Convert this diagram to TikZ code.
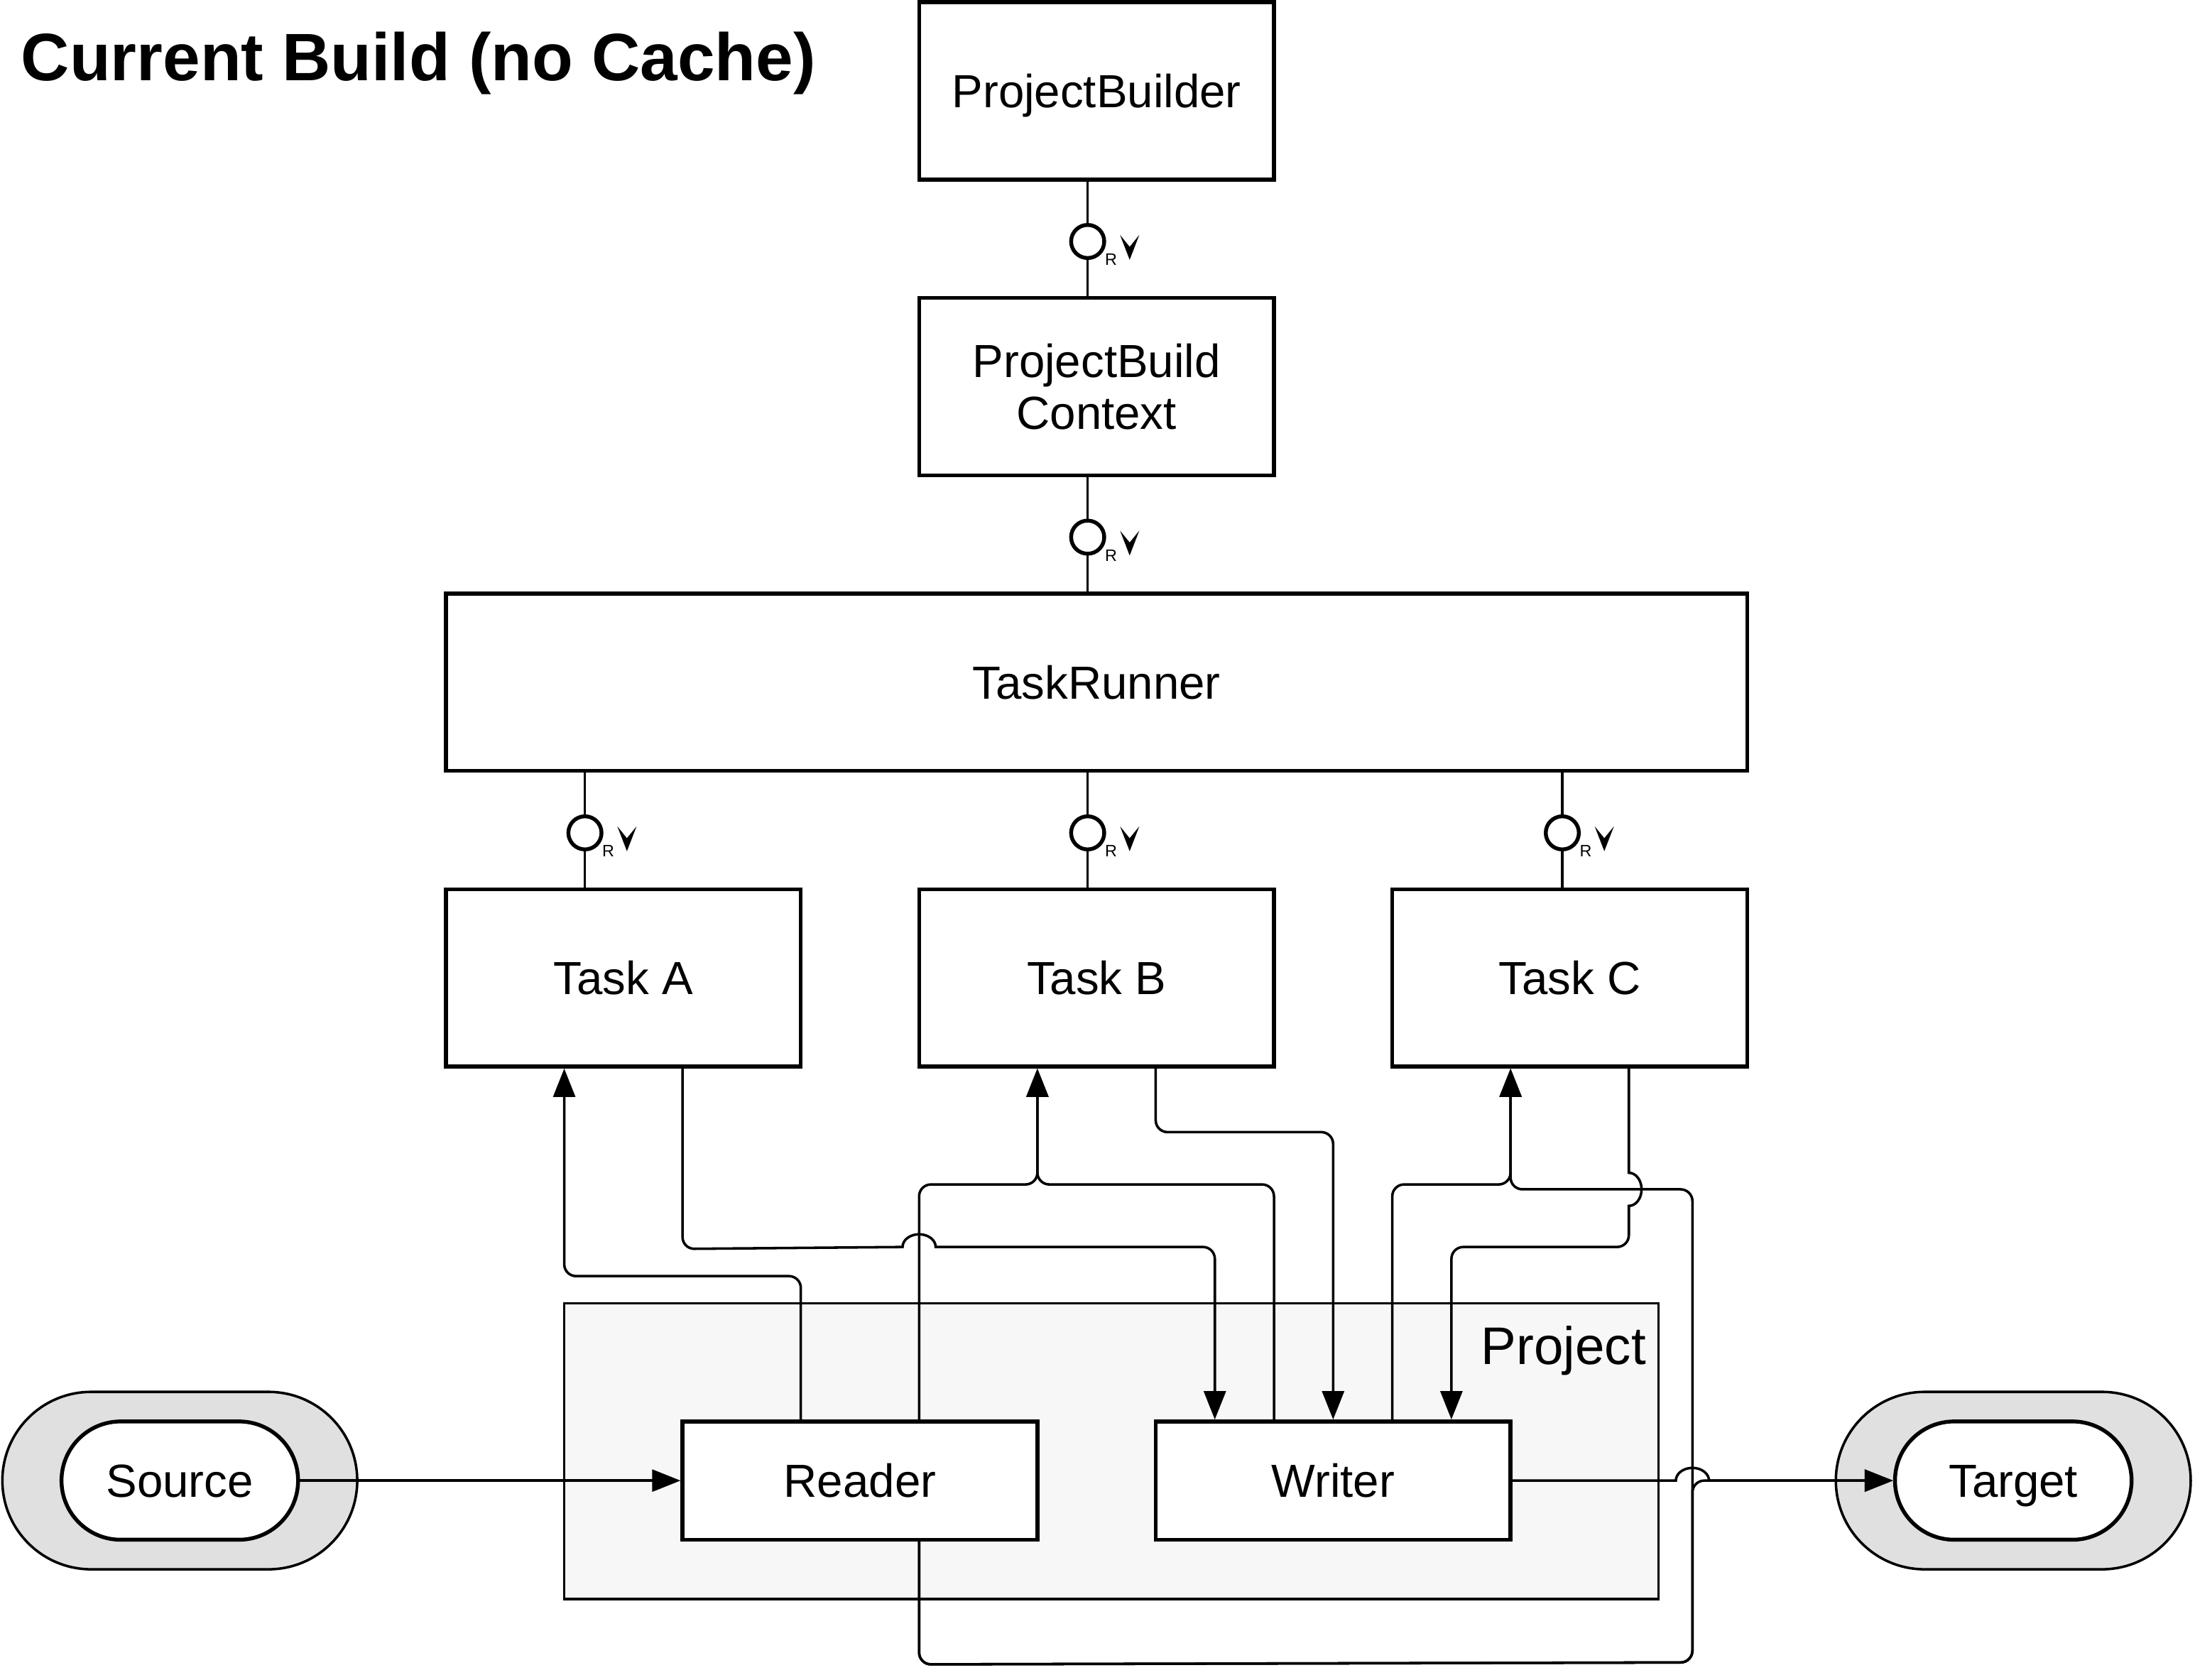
\documentclass[tikz,border=0pt]{standalone}
\usepackage{fontspec}
\setmainfont{Liberation Sans}
\usetikzlibrary{arrows.meta}
\definecolor{shade}{HTML}{E0E0E0}
\definecolor{panel}{HTML}{F7F7F7}

\begin{document}
\begin{tikzpicture}[x=1pt, y=1pt,
  block/.style={draw=black, line width=1.3pt, fill=white, minimum width=120pt, minimum height=60pt, inner sep=0pt, align=center, font=\fontsize{15.7}{17.6}\selectfont},
  box/.style={block, text height=11.3pt, text depth=0pt},
  io/.style={box, minimum height=40pt},
  link/.style={line width=0.85pt, rounded corners=4pt},
  flow/.style={link, -{Triangle[length=9.6pt, width=7.4pt]}},
  iface/.style={circle, draw=black, line width=1.3pt, fill=white, minimum size=11.2pt, inner sep=0pt},
  rtag/.style={font=\fontsize{5.6}{6}\selectfont, inner sep=0pt},
  ring/.style={draw=black, line width=0.85pt, fill=shade, minimum width=120pt, minimum height=60pt, rounded corners=30pt},
  terminal/.style={box, minimum width=80pt, minimum height=40pt, rounded corners=20pt}]
\useasboundingbox (-0.8,0.71) rectangle (741.45,-567.44);

\node[anchor=base west, inner sep=0pt, font=\fontsize{22.7}{26}\selectfont\bfseries] (title) at (6.2,-26.5) {Current Build (no Cache)};

\node[box] (pb) at (370,-30) {ProjectBuilder};
\node[block] (pbc) at (370,-130) {ProjectBuild\\Context};
\node[box, minimum width=440pt] (runner) at (370,-230) {TaskRunner};
\node[box] (taska) at (210,-330) {Task A};
\node[box] (taskb) at (370,-330) {Task B};
\node[box] (taskc) at (530,-330) {Task C};

\node[draw=black, line width=0.85pt, fill=panel, minimum width=370pt, minimum height=100pt, inner sep=0pt] (project) at (375,-490) {};
\node[anchor=base east, inner sep=0pt, font=\fontsize{17.9}{21}\selectfont] (projlabel) at (556,-460.8) {Project};
\node[io] (reader) at (290,-500) {Reader};
\node[io] (writer) at (450,-500) {Writer};

\node[ring] (srcring) at (60,-500) {};
\node[terminal] (source) at (60,-500) {Source};
\node[ring] (tgtring) at (680,-500) {};
\node[terminal] (target) at (680,-500) {Target};

\foreach \src/\dst/\dx [count=\i] in {pb/pbc/-3, pbc/runner/-3, runner/taska/-13, runner/taskb/-3, runner/taskc/-2.5} {
  \draw[link] ([xshift=\dx pt]\dst.north) coordinate (lt\i) -- (lt\i |- \src.south);
  \node[iface] (r\i) at ([yshift=18.4pt]lt\i) {};
  \node[rtag] at ([shift={(7.9,-6.2)}]r\i.center) {R};
  \fill ([shift={(14.2,-6.2)}]r\i.center) -- ++(-3.25,8.4) -- ++(3.25,-4) -- ++(3.25,4) -- cycle;
}

\draw[flow] (source.east) -- (reader.west);
\draw[flow] ([xshift=-20pt]reader.north) -- ++(0,48.5) -| ([xshift=-20pt]taska.south);
\draw[flow] ([xshift=20pt]taska.south) -- ++(0,-61) [sharp corners] -- (304.4,-421)
  arc[start angle=180, end angle=0, x radius=5.6, y radius=4.3] [rounded corners=4pt] -| ([xshift=-40pt]writer.north);
\draw[flow] ([xshift=20pt]reader.north) -- ++(0,79.5) -| ([xshift=-20pt]taskb.south);
\draw[flow] ([xshift=-20pt]writer.north) -- ++(0,79.5) -| ([xshift=-20pt]taskb.south);
\draw[flow] ([xshift=20pt]taskb.south) -- ++(0,-21.5) -| (writer.north);
\draw[flow] ([xshift=20pt]writer.north) -- ++(0,79.5) -| ([xshift=-20pt]taskc.south);
\draw[flow] ([xshift=20pt]taskc.south) [sharp corners] -- (550,-395.9)
  arc[start angle=90, end angle=-90, x radius=4.3, y radius=5.6] [rounded corners=4pt] -- (550,-421) -| ([xshift=40pt]writer.north);
\draw[flow] ([xshift=20pt]reader.south) -- ++(0,-41.5) -- (571.5,-561.5) -- (571.5,-401.5) -| ([xshift=-20pt]taskc.south);
\draw[flow] ([xshift=20pt]reader.south) -- ++(0,-41.5) -- (571.5,-561.5) |- (target.west);
\draw[flow] (writer.east) [sharp corners] -- (565.9,-500)
  arc[start angle=180, end angle=0, x radius=5.6, y radius=4.3] -- (target.west);
\end{tikzpicture}
\end{document}
